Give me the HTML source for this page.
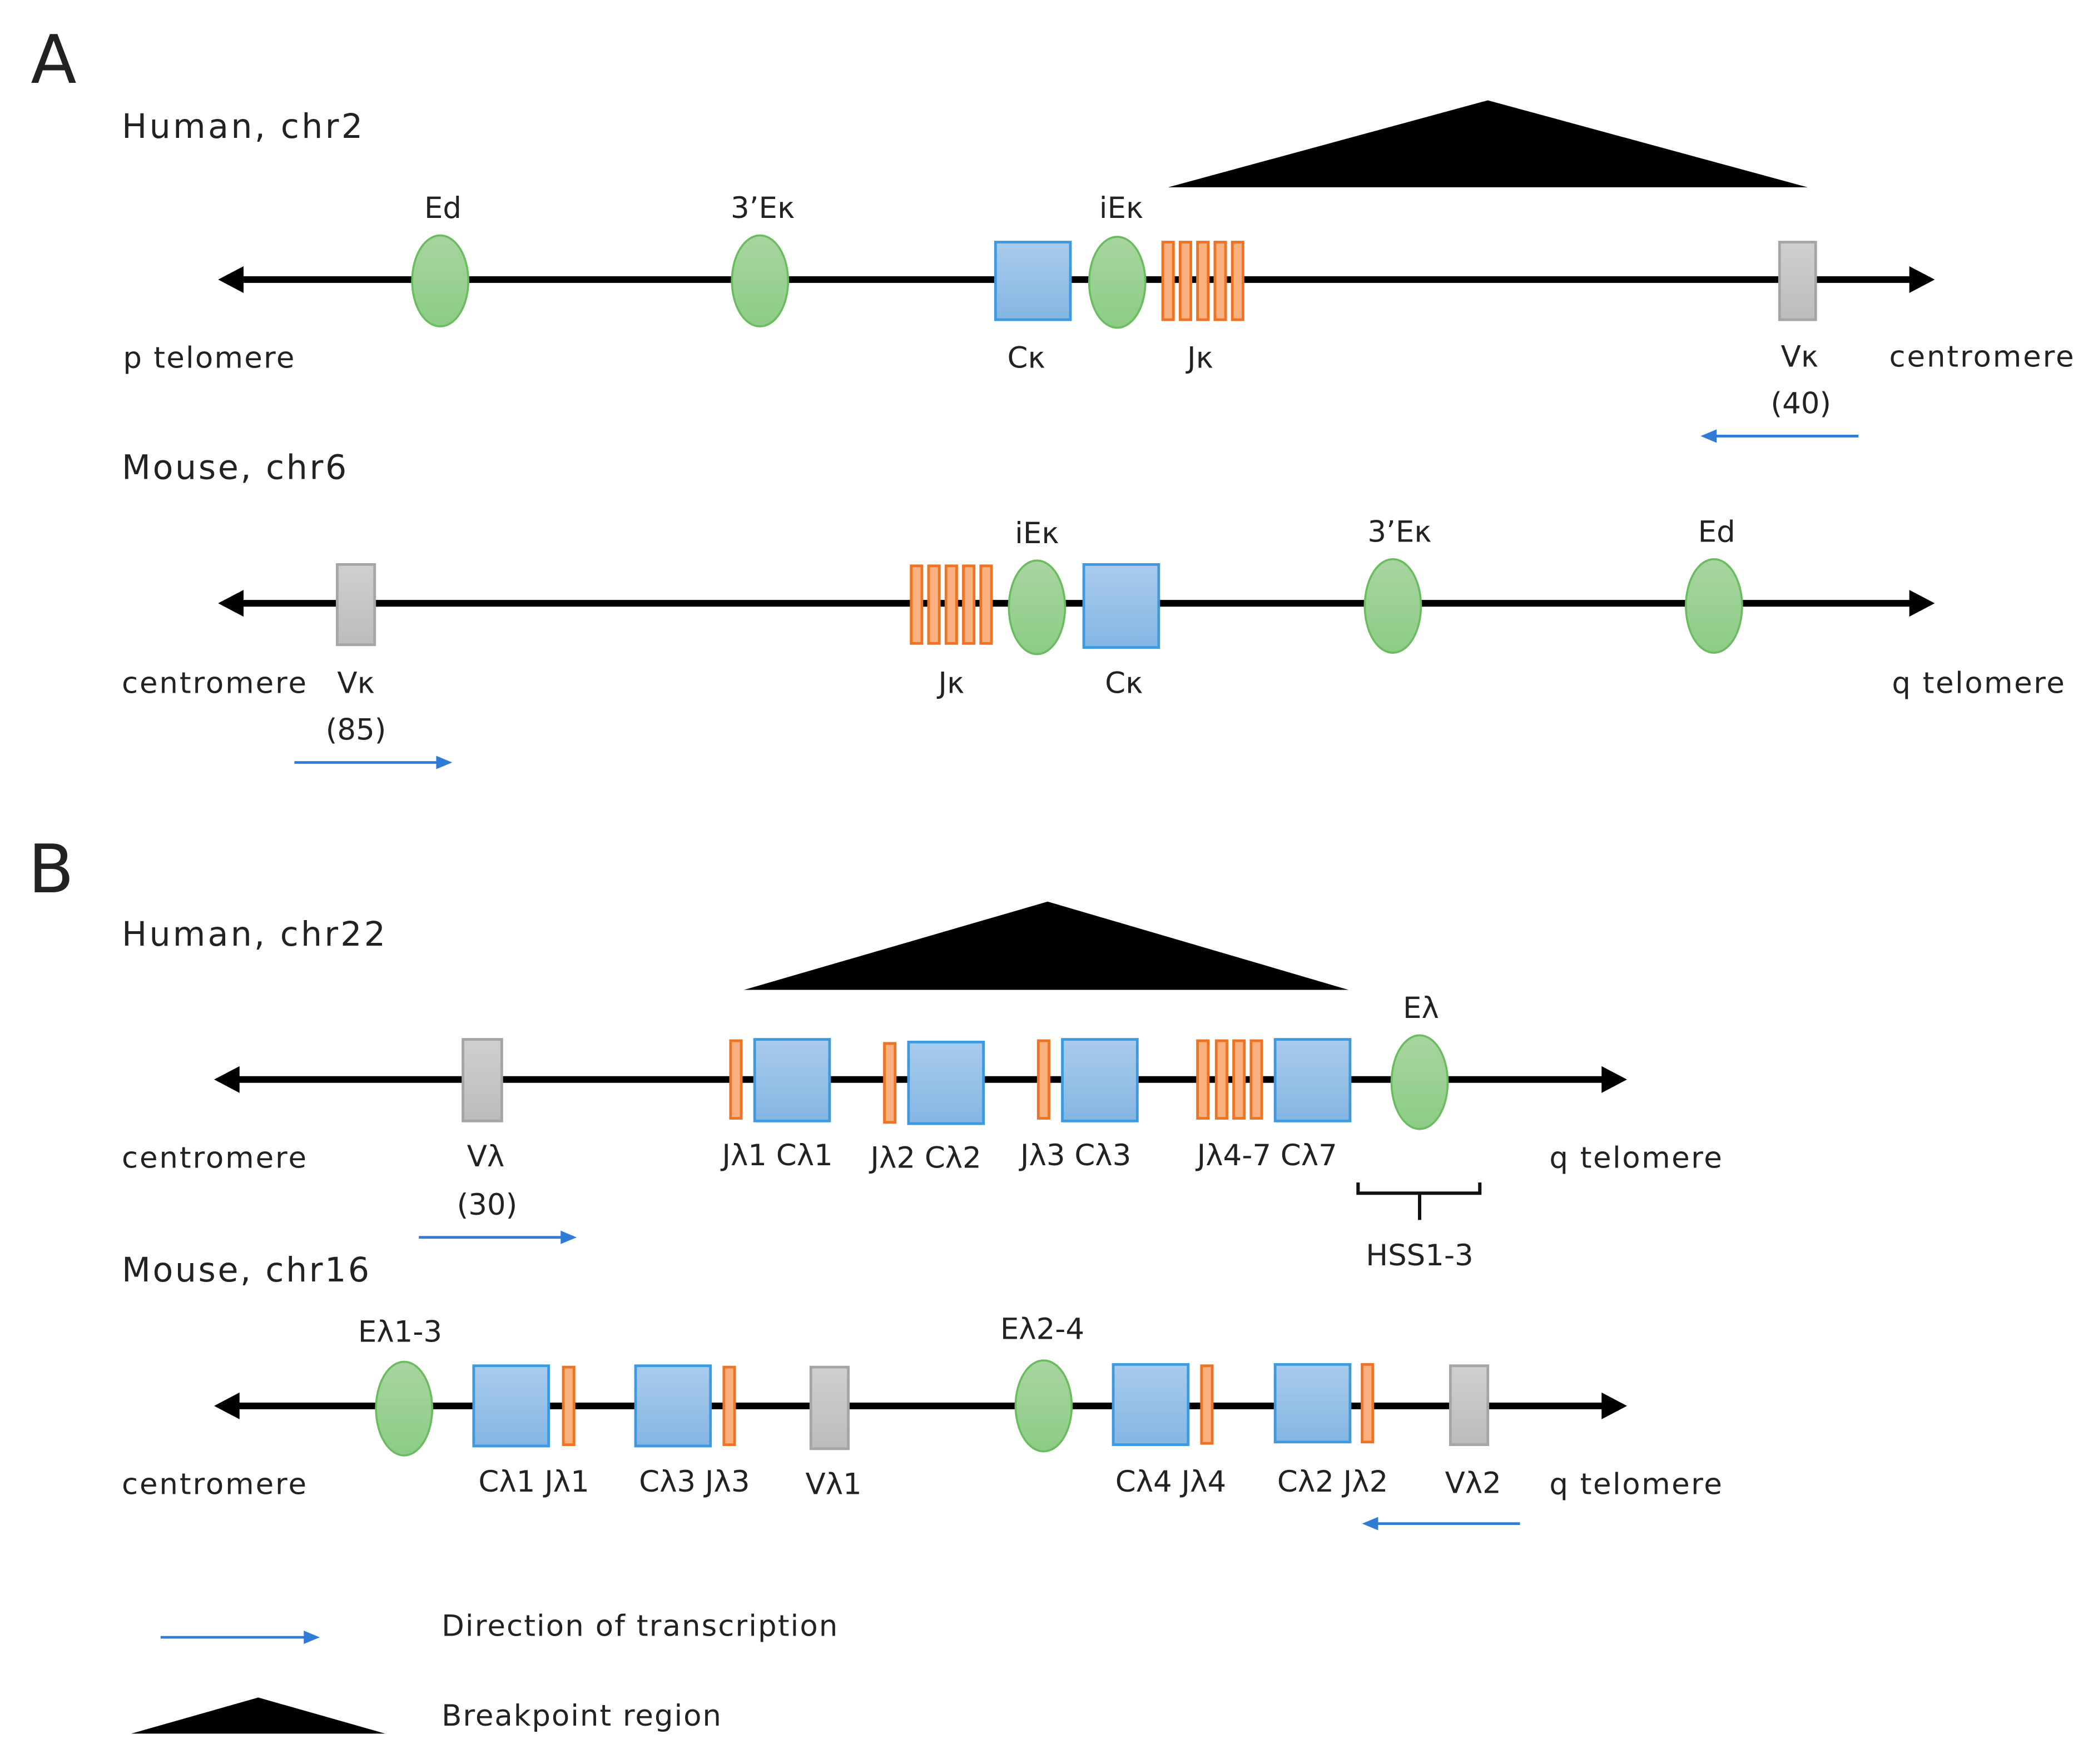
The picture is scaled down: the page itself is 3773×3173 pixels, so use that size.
<!DOCTYPE html>
<html><head><meta charset="utf-8"><style>html,body{margin:0;padding:0;background:#fff}svg{display:block}text{font-family:"DejaVu Sans","Liberation Sans",sans-serif;fill:#222}</style></head>
<body>
<svg width="3773" height="3173" viewBox="0 0 1568 1318.7" xmlns="http://www.w3.org/2000/svg">
<defs>
<linearGradient id="gb" x1="0" y1="0" x2="0" y2="1"><stop offset="0" stop-color="#a9cbec"/><stop offset="1" stop-color="#84b6e3"/></linearGradient>
<linearGradient id="gg" x1="0" y1="0" x2="0" y2="1"><stop offset="0" stop-color="#a8d5a0"/><stop offset="1" stop-color="#8ccc85"/></linearGradient>
<linearGradient id="gr" x1="0" y1="0" x2="0" y2="1"><stop offset="0" stop-color="#cfcfcf"/><stop offset="1" stop-color="#bcbcbc"/></linearGradient>
<g id="j"><rect x="0" y="0" width="8" height="58" fill="#fbb07f" stroke="#ed7424" stroke-width="2"/></g>
</defs>
<g font-size="22">
<text x="23" y="62" font-size="50" font-family="Liberation Sans">A</text>
<text x="91" y="103" font-size="25" textLength="180">Human, chr2</text>
<polygon points="873,140 1112,75 1351,140" fill="#000"/>
<line x1="175" y1="209" x2="1432" y2="209" stroke="#000" stroke-width="5"/>
<polygon points="163,209 182,199 182,219" fill="#000"/><polygon points="1446,209 1427,199 1427,219" fill="#000"/>
<ellipse cx="329" cy="210" rx="21" ry="34" fill="url(#gg)" stroke="#6abd5e" stroke-width="1.5"/>
<ellipse cx="568" cy="210" rx="21" ry="34" fill="url(#gg)" stroke="#6abd5e" stroke-width="1.5"/>
<rect x="744" y="181" width="56" height="58" fill="url(#gb)" stroke="#3d9ae0" stroke-width="2"/>
<ellipse cx="835" cy="211" rx="21" ry="34" fill="url(#gg)" stroke="#6abd5e" stroke-width="1.5"/>
<use href="#j" x="869" y="181"/><use href="#j" x="882" y="181"/><use href="#j" x="895" y="181"/><use href="#j" x="908" y="181"/><use href="#j" x="921" y="181"/>
<rect x="1330" y="181" width="27" height="58" fill="url(#gr)" stroke="#a5a5a5" stroke-width="2"/>
<text x="331" y="163" text-anchor="middle">Ed</text>
<text x="570" y="163" text-anchor="middle">3’Eκ</text>
<text x="838" y="163" text-anchor="middle">iEκ</text>
<text x="767" y="275" text-anchor="middle">Cκ</text>
<text x="897" y="275" text-anchor="middle">Jκ</text>
<text x="1345" y="274" text-anchor="middle">Vκ</text>
<text x="1346" y="309" text-anchor="middle">(40)</text>
<text x="92" y="275" textLength="128">p telomere</text>
<text x="1412" y="274" textLength="138">centromere</text>
<line x1="1389" y1="326" x2="1280" y2="326" stroke="#2f7bd6" stroke-width="2"/><polygon points="1271,326 1283,321 1283,331" fill="#2f7bd6"/>

<text x="91" y="358" font-size="25" textLength="168">Mouse, chr6</text>
<line x1="175" y1="451" x2="1432" y2="451" stroke="#000" stroke-width="5"/>
<polygon points="163,451 182,441 182,461" fill="#000"/><polygon points="1446,451 1427,441 1427,461" fill="#000"/>
<rect x="252" y="422" width="28" height="60" fill="url(#gr)" stroke="#a5a5a5" stroke-width="2"/>
<use href="#j" x="681" y="423"/><use href="#j" x="694" y="423"/><use href="#j" x="707" y="423"/><use href="#j" x="720" y="423"/><use href="#j" x="733" y="423"/>
<ellipse cx="775" cy="454" rx="21" ry="35" fill="url(#gg)" stroke="#6abd5e" stroke-width="1.5"/>
<rect x="810" y="422" width="56" height="62" fill="url(#gb)" stroke="#3d9ae0" stroke-width="2"/>
<ellipse cx="1041" cy="453" rx="21" ry="35" fill="url(#gg)" stroke="#6abd5e" stroke-width="1.5"/>
<ellipse cx="1281" cy="453" rx="21" ry="35" fill="url(#gg)" stroke="#6abd5e" stroke-width="1.5"/>
<text x="775" y="406" text-anchor="middle">iEκ</text>
<text x="1046" y="405" text-anchor="middle">3’Eκ</text>
<text x="1283" y="405" text-anchor="middle">Ed</text>
<text x="91" y="518" textLength="138">centromere</text>
<text x="266" y="518" text-anchor="middle">Vκ</text>
<text x="266" y="553" text-anchor="middle">(85)</text>
<text x="711" y="518" text-anchor="middle">Jκ</text>
<text x="840" y="518" text-anchor="middle">Cκ</text>
<text x="1414" y="518" textLength="129">q telomere</text>
<line x1="220" y1="570" x2="329" y2="570" stroke="#2f7bd6" stroke-width="2"/><polygon points="338,570 326,565 326,575" fill="#2f7bd6"/>

<text x="21" y="667" font-size="50" font-family="Liberation Sans">B</text>
<text x="91" y="707" font-size="25" textLength="197">Human, chr22</text>
<polygon points="556,740 783,674 1008,740" fill="#000"/>
<line x1="172" y1="807" x2="1202" y2="807" stroke="#000" stroke-width="5"/>
<polygon points="160,807 179,797 179,817" fill="#000"/><polygon points="1216,807 1197,797 1197,817" fill="#000"/>
<rect x="346" y="777" width="29" height="61" fill="url(#gr)" stroke="#a5a5a5" stroke-width="2"/>
<use href="#j" x="546" y="778"/>
<rect x="564" y="777" width="56" height="61" fill="url(#gb)" stroke="#3d9ae0" stroke-width="2"/>
<rect x="661" y="780" width="8" height="59" fill="#fbb07f" stroke="#ed7424" stroke-width="2"/>
<rect x="679" y="779" width="56" height="61" fill="url(#gb)" stroke="#3d9ae0" stroke-width="2"/>
<use href="#j" x="776" y="778"/>
<rect x="794" y="777" width="56" height="61" fill="url(#gb)" stroke="#3d9ae0" stroke-width="2"/>
<use href="#j" x="895" y="778"/><use href="#j" x="909" y="778"/><use href="#j" x="922" y="778"/><use href="#j" x="935" y="778"/>
<rect x="953" y="777" width="56" height="61" fill="url(#gb)" stroke="#3d9ae0" stroke-width="2"/>
<ellipse cx="1061" cy="809" rx="21" ry="35" fill="url(#gg)" stroke="#6abd5e" stroke-width="1.5"/>
<text x="1062" y="761" text-anchor="middle">Eλ</text>
<text x="91" y="873" textLength="138">centromere</text>
<text x="363" y="872" text-anchor="middle">Vλ</text>
<text x="364" y="908" text-anchor="middle">(30)</text>
<text x="581" y="871" text-anchor="middle">Jλ1 Cλ1</text>
<text x="692" y="873" text-anchor="middle">Jλ2 Cλ2</text>
<text x="804" y="871" text-anchor="middle">Jλ3 Cλ3</text>
<text x="947" y="871" text-anchor="middle">Jλ4-7 Cλ7</text>
<text x="1158" y="873" textLength="129">q telomere</text>
<path d="M1015,884 V892 H1106 V884 M1061,892 V912" fill="none" stroke="#111" stroke-width="2.5"/>
<text x="1061" y="946" text-anchor="middle">HSS1-3</text>
<line x1="313" y1="925" x2="422" y2="925" stroke="#2f7bd6" stroke-width="2"/><polygon points="431,925 419,920 419,930" fill="#2f7bd6"/>

<text x="91" y="958" font-size="25" textLength="185">Mouse, chr16</text>
<line x1="172" y1="1051" x2="1202" y2="1051" stroke="#000" stroke-width="5"/>
<polygon points="160,1051 179,1041 179,1061" fill="#000"/><polygon points="1216,1051 1197,1041 1197,1061" fill="#000"/>
<ellipse cx="302" cy="1053" rx="21" ry="35" fill="url(#gg)" stroke="#6abd5e" stroke-width="1.5"/>
<rect x="354" y="1021" width="56" height="60" fill="url(#gb)" stroke="#3d9ae0" stroke-width="2"/>
<use href="#j" x="421" y="1022"/>
<rect x="475" y="1021" width="56" height="60" fill="url(#gb)" stroke="#3d9ae0" stroke-width="2"/>
<use href="#j" x="541" y="1022"/>
<rect x="606" y="1022" width="28" height="61" fill="url(#gr)" stroke="#a5a5a5" stroke-width="2"/>
<ellipse cx="780" cy="1051" rx="21" ry="34" fill="url(#gg)" stroke="#6abd5e" stroke-width="1.5"/>
<rect x="832" y="1020" width="56" height="60" fill="url(#gb)" stroke="#3d9ae0" stroke-width="2"/>
<use href="#j" x="898" y="1021"/>
<rect x="953" y="1020" width="56" height="58" fill="url(#gb)" stroke="#3d9ae0" stroke-width="2"/>
<use href="#j" x="1018" y="1020"/>
<rect x="1084" y="1021" width="28" height="59" fill="url(#gr)" stroke="#a5a5a5" stroke-width="2"/>
<text x="299" y="1003" text-anchor="middle">Eλ1-3</text>
<text x="779" y="1001" text-anchor="middle">Eλ2-4</text>
<text x="91" y="1117" textLength="138">centromere</text>
<text x="399" y="1115" text-anchor="middle">Cλ1 Jλ1</text>
<text x="519" y="1115" text-anchor="middle">Cλ3 Jλ3</text>
<text x="623" y="1117" text-anchor="middle">Vλ1</text>
<text x="875" y="1115" text-anchor="middle">Cλ4 Jλ4</text>
<text x="996" y="1115" text-anchor="middle">Cλ2 Jλ2</text>
<text x="1101" y="1116" text-anchor="middle">Vλ2</text>
<text x="1158" y="1117" textLength="129">q telomere</text>
<line x1="1136" y1="1139" x2="1027" y2="1139" stroke="#2f7bd6" stroke-width="2"/><polygon points="1018,1139 1030,1134 1030,1144" fill="#2f7bd6"/>

<line x1="120" y1="1224" x2="230" y2="1224" stroke="#2f7bd6" stroke-width="2"/><polygon points="239,1224 227,1219 227,1229" fill="#2f7bd6"/>
<text x="330" y="1223" textLength="296">Direction of transcription</text>
<polygon points="98,1296 193,1269 288,1296" fill="#000"/>
<text x="330" y="1290" textLength="209">Breakpoint region</text>
</g>
</svg>
</body></html>
